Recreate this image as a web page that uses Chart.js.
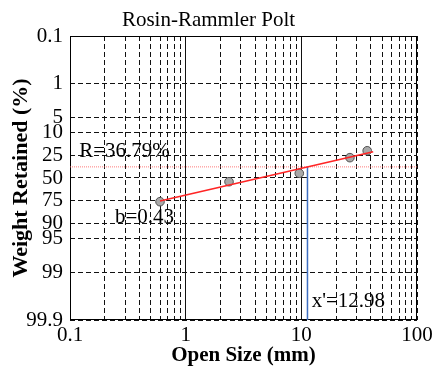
<!DOCTYPE html>
<html lang="en">
<head>
<meta charset="UTF-8">
<title>Rosin-Rammler Polt</title>
<script src="https://cdn.jsdelivr.net/npm/chart.js@4.4.1/dist/chart.umd.min.js"></script>
<style>
    body { margin: 0; background: #fff; }
    .divGrafico { width: 433px; height: 369px; }
</style>
</head>
<body>
<div class="divGrafico">
    <canvas id="rosin" width="433" height="369"></canvas>
</div>
<script>
// measured points: open size (mm) and weight retained (%)
const openSize = [0.6, 2.37, 9.6, 26.3, 37.1];
const retained = [76.0, 54.5, 44.3, 27.1, 21.0];

// fitted line, start and end
const fitSize = [0.6, 41.8];
const fitRetained = [75.4, 21.8];

// R = 36.79% level and the x' marker
const rLevel = 36.79;
const xPrime = 11.3;

const sizeRange = [0.1, 100];
const retainedRange = [0.1, 99.9];

const xTicks = [0.1, 0.2, 0.3, 0.4, 0.5, 0.6, 0.7, 0.8, 0.9,
                1, 2, 3, 4, 5, 6, 7, 8, 9,
                10, 20, 30, 40, 50, 60, 70, 80, 90, 100];
const xLabelValues = [0.1, 1, 10, 100];
const xLabels = ['0.1', '1', '10', '100'];

const yTicks = [0.1, 1, 5, 10, 25, 50, 75, 90, 95, 99, 99.9];
const yLabels = ['0.1', '1', '5', '10', '25', '50', '75', '90', '95', '99', '99.9'];

// text notes inside the plot (size, retained %)
const noteTexts = ['R=36.79%', 'b=0.43', "x'=12.98"];
const noteSize = [0.12, 0.245, 12.3];
const noteRetained = [22, 87.2, 99.75];

const serif = "'Liberation Serif', 'Times New Roman', serif";

// retained % -> logit position on the probability axis
function logit(r) {
    let p = r / 100;
    return Math.log(p / (1 - p));
}

Chart.defaults.font.family = serif;
Chart.defaults.color = '#000';

const moldura = {
    id: 'moldura',
    beforeDatasetsDraw(chart) {
        const a = chart.chartArea;
        const ctx = chart.ctx;
        ctx.save();
        ctx.strokeStyle = '#000';
        ctx.lineWidth = 1;
        ctx.strokeRect(Math.round(a.left) + 0.5, Math.round(a.top) + 0.5,
            Math.round(a.right - a.left) - 1, Math.round(a.bottom - a.top) - 1);
        ctx.restore();
    }
};

const notas = {
    id: 'notas',
    afterDatasetsDraw(chart) {
        const ctx = chart.ctx;
        const xs = chart.scales.x;
        const ys = chart.scales.y;
        ctx.save();
        ctx.font = '21px ' + serif;
        ctx.fillStyle = '#000';
        ctx.textAlign = 'left';
        ctx.textBaseline = 'middle';
        noteTexts.forEach((t, i) => {
            ctx.fillText(t, xs.getPixelForValue(noteSize[i]), ys.getPixelForValue(logit(noteRetained[i])));
        });
        ctx.restore();
    }
};

new Chart(document.getElementById('rosin'), {
    type: 'scatter',
    data: {
        datasets: [{
            label: 'fit',
            data: fitSize.map((x, i) => ({ x: x, y: logit(fitRetained[i]) })),
            showLine: true,
            borderColor: '#ff2424',
            borderWidth: 1.6,
            pointRadius: 0,
            order: 0
        }, {
            label: 'measured',
            data: openSize.map((x, i) => ({ x: x, y: logit(retained[i]) })),
            backgroundColor: '#a9a9a9',
            borderColor: '#505050',
            borderWidth: 1,
            pointRadius: 4.3,
            order: 1
        }, {
            label: 'R',
            data: sizeRange.map(x => ({ x: x, y: logit(rLevel) })),
            showLine: true,
            borderColor: 'rgba(255, 90, 90, 0.8)',
            borderWidth: 1,
            borderDash: [1, 1],
            pointRadius: 0,
            order: 2
        }, {
            label: "x'",
            data: [{ x: xPrime, y: logit(rLevel) }, { x: xPrime, y: logit(retainedRange[1]) }],
            showLine: true,
            borderColor: '#3f6fc2',
            borderWidth: 1.5,
            pointRadius: 0,
            order: 2
        }]
    },
    options: {
        responsive: false,
        animation: false,
        layout: { padding: { left: 0, right: 16, top: 0, bottom: 0 } },
        plugins: {
            legend: { display: false },
            tooltip: { enabled: false },
            title: {
                display: true,
                text: 'Rosin-Rammler Polt',
                color: '#000',
                font: { family: serif, size: 21, weight: 'normal', lineHeight: 1.2 },
                padding: { top: 8, bottom: 2.8 }
            }
        },
        scales: {
            x: {
                type: 'logarithmic',
                min: sizeRange[0],
                max: sizeRange[1],
                afterBuildTicks: (scale) => {
                    scale.ticks = xTicks.map(v => ({ value: v }));
                },
                afterFit: (scale) => { scale.height = 49; },
                ticks: {
                    autoSkip: false,
                    maxRotation: 0,
                    padding: 0,
                    font: { size: 21, lineHeight: 1.45 },
                    callback: (value) => {
                        let k = xLabelValues.findIndex(v => Math.abs(v - value) < 1e-9);
                        return k >= 0 ? xLabels[k] : '';
                    }
                },
                grid: {
                    drawTicks: false,
                    color: '#111',
                    lineWidth: 1
                },
                border: {
                    display: false,
                    dash: (ctx) => {
                        let v = ctx.tick ? ctx.tick.value : 0;
                        return (Math.abs(v - 1) < 1e-9 || Math.abs(v - 10) < 1e-9) ? [] : [5, 3];
                    }
                },
                title: {
                    display: true,
                    text: 'Open Size (mm)',
                    color: '#000',
                    font: { size: 21, weight: 'bold', lineHeight: 1.2 },
                    padding: { top: 0, bottom: 1 }
                }
            },
            y: {
                type: 'linear',
                reverse: true,
                min: logit(retainedRange[0]),
                max: logit(retainedRange[1]),
                afterBuildTicks: (scale) => {
                    scale.ticks = yTicks.map(v => ({ value: logit(v) }));
                },
                afterFit: (scale) => { scale.width = 70; },
                ticks: {
                    autoSkip: false,
                    padding: 7,
                    font: { size: 21 },
                    callback: (value, index) => yLabels[index]
                },
                grid: {
                    drawTicks: false,
                    color: '#111',
                    lineWidth: 1
                },
                border: {
                    display: false,
                    dash: [5, 3]
                },
                title: {
                    display: true,
                    text: 'Weight Retained (%)',
                    color: '#000',
                    font: { size: 22, weight: 'bold', lineHeight: 1.2 },
                    padding: { top: 8, bottom: 0 }
                }
            }
        }
    },
    plugins: [moldura, notas]
});
</script>
</body>
</html>
